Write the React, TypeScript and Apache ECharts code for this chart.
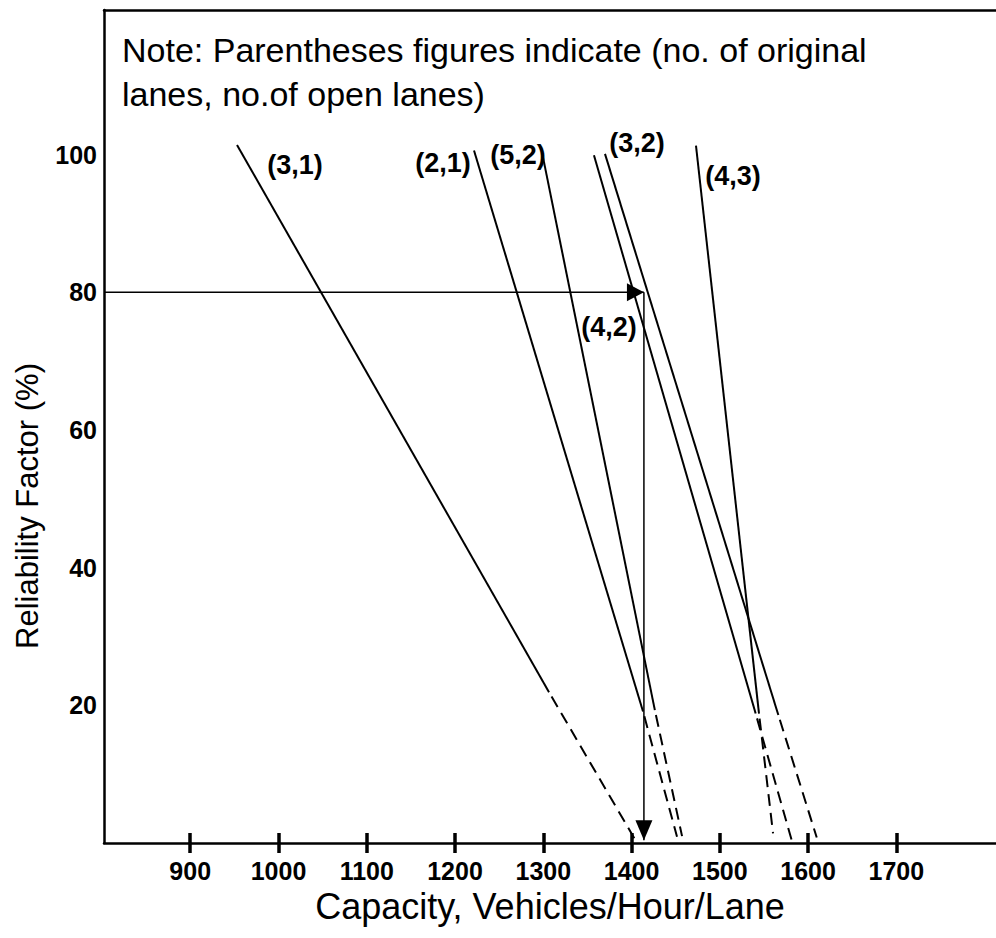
import React, { useEffect, useRef } from "react";
import * as echarts from "echarts";

// ---- Data ----
const xTicks = [900, 1000, 1100, 1200, 1300, 1400, 1500, 1600, 1700];
const yTicks = [20, 40, 60, 80, 100];

const lineNames = ["(3,1)", "(2,1)", "(5,2)", "(4,2)", "(3,2)", "(4,3)"];
// solid part: from the top point down to ~20 % reliability
const solidTop = [
  [953, 101.4],
  [1221.5, 100.6],
  [1299.7, 99.6],
  [1357.4, 99.9],
  [1369.9, 100.1],
  [1473, 101.3],
];
const solidEnd = [
  [1306.5, 21.9],
  [1413, 19.1],
  [1426.4, 19.3],
  [1540.6, 18.8],
  [1566.3, 18.6],
  [1544.4, 18.8],
];
// dashed extrapolation down to the axis
const dashedEnd = [
  [1404, 0.5],
  [1451.5, 0.9],
  [1457.2, 1.0],
  [1581.4, 0.4],
  [1609.8, 0.8],
  [1560.3, 1.4],
];
// label anchors (centre of each label)
const labelPos = [
  [1018.7, 98.5],
  [1186.3, 98.8],
  [1271.3, 99.9],
  [1374.4, 74.9],
  [1406.2, 101.7],
  [1514.9, 96.9],
];

const designReliability = 80;
const designCapacity = 1414;
const xMin = 802.3;
const xMax = 1812.9;
const yMin = 0;
const yMax = 121;

const FONT = '"Liberation Sans", Arial, Helvetica, sans-serif';

export default function App() {
  const ref = useRef<HTMLDivElement>(null);

  useEffect(() => {
    if (!ref.current) return;
    const chart = echarts.init(ref.current, undefined, { renderer: "svg" });

    const series: any[] = [];
    lineNames.forEach((name, i) => {
      series.push({
        type: "line",
        name: name + " solid",
        data: [solidTop[i], solidEnd[i]],
        symbol: "none",
        lineStyle: { color: "#000", width: 2 },
        silent: true,
        z: 3,
      });
      series.push({
        type: "line",
        name: name + " dashed",
        data: [solidEnd[i], dashedEnd[i]],
        symbol: "none",
        lineStyle: { color: "#000", width: 2, type: [12, 7], dashOffset: 14 },
        silent: true,
        z: 3,
      });
    });

    // arrow shafts
    series.push({
      type: "line",
      name: "design horizontal",
      data: [
        [xMin, designReliability],
        [designCapacity, designReliability],
      ],
      symbol: "none",
      lineStyle: { color: "#000", width: 1.5 },
      silent: true,
      z: 4,
    });
    series.push({
      type: "line",
      name: "design vertical",
      data: [
        [designCapacity, designReliability],
        [designCapacity, 0.4],
      ],
      symbol: "none",
      lineStyle: { color: "#000", width: 1.5 },
      silent: true,
      z: 4,
    });

    // arrow heads
    series.push({
      type: "custom",
      name: "arrows",
      silent: true,
      z: 5,
      data: [
        [designCapacity, designReliability, 0],
        [designCapacity, 0.4, 1],
      ],
      renderItem: (params: any, api: any) => {
        const p = api.coord([api.value(0), api.value(1)]);
        const dir = api.value(2);
        const pts =
          dir === 0
            ? [
                [p[0], p[1]],
                [p[0] - 17, p[1] - 9],
                [p[0] - 17, p[1] + 9],
              ]
            : [
                [p[0], p[1]],
                [p[0] - 8.5, p[1] - 20],
                [p[0] + 8.5, p[1] - 20],
              ];
        return { type: "polygon", shape: { points: pts }, style: { fill: "#000" } };
      },
    });

    // line labels
    series.push({
      type: "custom",
      name: "labels",
      silent: true,
      z: 6,
      data: labelPos.map((p, i) => [p[0], p[1], i]),
      renderItem: (params: any, api: any) => {
        const p = api.coord([api.value(0), api.value(1)]);
        const idx = api.value(2);
        return {
          type: "text",
          x: p[0],
          y: p[1],
          style: {
            text: lineNames[idx],
            fill: "#000",
            fontFamily: FONT,
            fontWeight: "bold",
            fontSize: 27,
            align: "center",
            verticalAlign: "middle",
          },
        };
      },
    });

    chart.setOption({
      animation: false,
      backgroundColor: "#fff",
      grid: { left: 104, right: 0, top: 10, bottom: 95, containLabel: false },
      xAxis: [
        {
          type: "value",
          min: xMin,
          max: xMax,
          position: "bottom",
          axisLine: { show: true, onZero: false, lineStyle: { color: "#000", width: 2.5 } },
          axisTick: {
            show: true,
            customValues: xTicks,
            length: 10,
            inside: false,
            lineStyle: { color: "#000", width: 3.5 },
          },
          axisLabel: {
            show: true,
            customValues: xTicks,
            formatter: (v: number) => String(v),
            margin: 15,
            color: "#000",
            fontFamily: FONT,
            fontWeight: "bold",
            fontSize: 25,
          },
          splitLine: { show: false },
          name: "Capacity, Vehicles/Hour/Lane",
          nameLocation: "middle",
          nameGap: 45,
          nameTextStyle: { color: "#000", fontFamily: FONT, fontSize: 36 },
        },
        {
          type: "value",
          min: xMin,
          max: xMax,
          position: "bottom",
          axisLine: { show: false },
          axisTick: {
            show: true,
            customValues: xTicks,
            length: 10,
            inside: true,
            lineStyle: { color: "#000", width: 3.5 },
          },
          axisLabel: { show: false },
          splitLine: { show: false },
        },
        {
          type: "value",
          min: xMin,
          max: xMax,
          position: "top",
          axisLine: { show: true, onZero: false, lineStyle: { color: "#000", width: 2.5 } },
          axisTick: { show: false },
          axisLabel: { show: false },
          splitLine: { show: false },
        },
      ],
      yAxis: {
        type: "value",
        min: yMin,
        max: yMax,
        axisLine: { show: true, onZero: false, lineStyle: { color: "#000", width: 2.5 } },
        axisTick: { show: false },
        axisLabel: {
          show: true,
          customValues: yTicks,
          formatter: (v: number) => String(v),
          margin: 7,
          color: "#000",
          fontFamily: FONT,
          fontWeight: "bold",
          fontSize: 25,
        },
        splitLine: { show: false },
      },
      graphic: [
        {
          type: "text",
          left: 122,
          top: 28,
          silent: true,
          style: {
            text: "Note: Parentheses figures indicate (no. of original\nlanes, no.of open lanes)",
            fontFamily: FONT,
            fontSize: 34,
            lineHeight: 44,
            fill: "#000",
          },
        },
        {
          type: "text",
          x: 27,
          y: 506,
          rotation: Math.PI / 2,
          silent: true,
          style: {
            text: "Reliability Factor (%)",
            fontFamily: FONT,
            fontSize: 31,
            fill: "#000",
            align: "center",
            verticalAlign: "middle",
          },
        },
      ],
      series,
    });

    return () => chart.dispose();
  }, []);

  return (
    <div
      ref={ref}
      style={{ position: "fixed", left: 0, top: 0, width: 996, height: 938, background: "#fff" }}
    />
  );
}
